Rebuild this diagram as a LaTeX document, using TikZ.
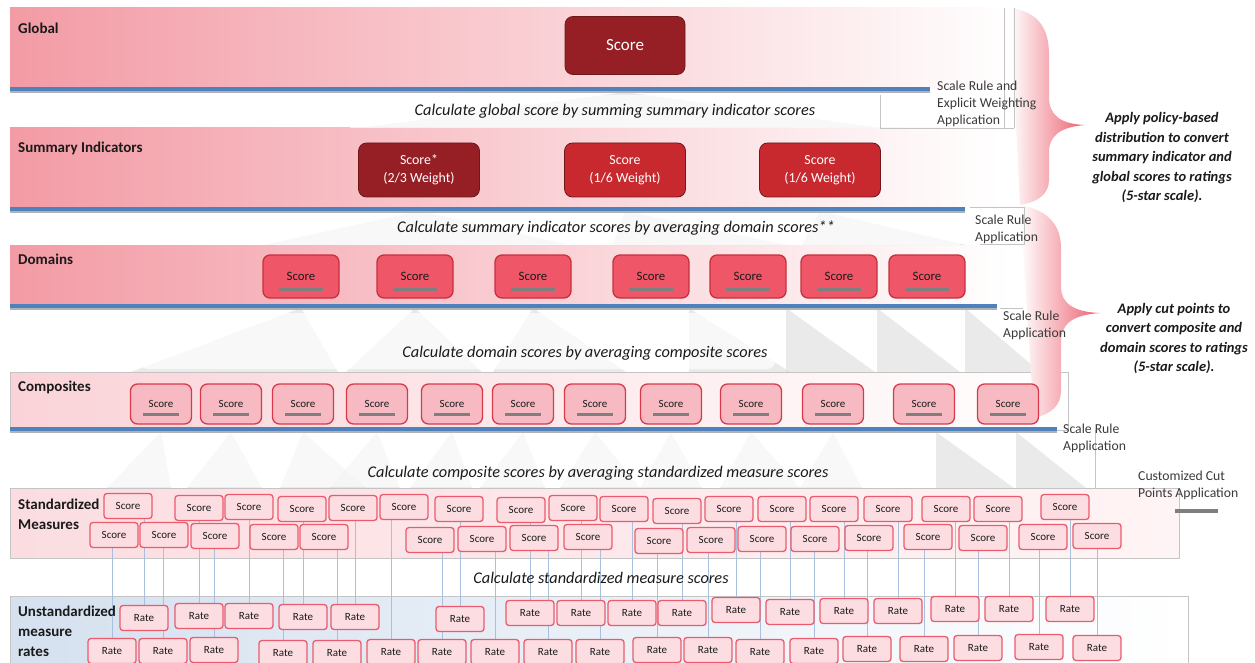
\documentclass[tikz,border=0pt]{standalone}
\usepackage{fontspec}
\setmainfont{Carlito}
\pgfdeclarelayer{bg}
\pgfdeclarelayer{mid}
\pgfsetlayers{bg,mid,main}
\definecolor{bandpink}{HTML}{F39BA5}
\definecolor{lightband}{HTML}{FAD3D8}
\definecolor{stdband}{HTML}{FBDDE1}
\definecolor{stdbandr}{HTML}{FFF4F5}
\definecolor{blueband}{HTML}{D5E1EF}
\definecolor{ruleblue}{HTML}{4F81BD}
\definecolor{darkred}{HTML}{951F24}
\definecolor{midred}{HTML}{C7292F}
\definecolor{domfill}{HTML}{EF5668}
\definecolor{domline}{HTML}{C8303C}
\definecolor{compfill}{HTML}{F7BAC2}
\definecolor{compline}{HTML}{D83A4A}
\definecolor{mfill}{HTML}{FCDEE2}
\definecolor{mline}{HTML}{EC5A6E}
\definecolor{connblue}{HTML}{A9C0DC}
\definecolor{barGray}{HTML}{7F7F7F}
\definecolor{bracepink}{HTML}{EC5F6E}
\definecolor{txt}{HTML}{1A1A1A}
\definecolor{ruletxt}{HTML}{3A3A3A}
\definecolor{boxline}{HTML}{C4C4C4}
\definecolor{tri}{HTML}{D0D0D0}
\begin{document}
\begin{tikzpicture}[x=1pt,y=-1pt,
  bandlabel/.style={anchor=west, inner sep=0pt, align=left, text=txt, font=\fontsize{15}{20}\selectfont\bfseries},
  calctext/.style={inner sep=0pt, text=txt, font=\fontsize{16.3}{18}\selectfont\itshape},
  ruletext/.style={anchor=west, inner sep=0pt, align=left, text=ruletxt, font=\fontsize{13.7}{17}\selectfont},
  bracetext/.style={inner sep=0pt, align=center, text=txt, font=\fontsize{14.5}{19.5}\selectfont\bfseries\itshape},
  globalbox/.style={rounded corners=8pt, fill=darkred, draw=darkred!75!black, line width=0.8pt, minimum width=120pt, minimum height=58pt, text=white, font=\fontsize{17}{20}\selectfont},
  sumbox/.style={rounded corners=8pt, draw=darkred!75!black, line width=0.8pt, minimum width=121pt, minimum height=54pt, text=white, align=center, font=\fontsize{13.9}{18}\selectfont},
  dombox/.style={rounded corners=7pt, fill=domfill, draw=domline, line width=1.3pt, minimum width=76pt, minimum height=43pt, text=txt, font=\fontsize{12.8}{14}\selectfont},
  compbox/.style={rounded corners=7pt, fill=compfill, draw=compline, line width=1.3pt, minimum width=61pt, minimum height=40pt, text=txt, font=\fontsize{11}{13}\selectfont},
  mbox/.style={rounded corners=3pt, fill=mfill, draw=mline, line width=1.3pt, minimum width=48pt, minimum height=25pt, inner sep=0pt, text=txt, font=\fontsize{11}{12}\selectfont},
  conn/.style={draw=connblue, line width=0.7pt},
  bluerule/.style={draw=ruleblue, line width=3.5pt},
  ruleshadow/.style={draw=black!30, line width=1.5pt},
  cutbar/.style={draw=barGray, line width=3.5pt},
  trifill/.style={fill=tri, opacity=0.45},
  labelbg/.style={fill=white, opacity=0.7},
  tbline/.style={draw=boxline, line width=0.6pt}]
\useasboundingbox (0,0) rectangle (1255,663);

\begin{pgfonlayer}{bg}
  % bands
  \shade[left color=bandpink, right color=white] (10,8) rectangle (1018,89);
  \shade[left color=bandpink, right color=white] (10,128) rectangle (1000,209);
  \shade[left color=bandpink, right color=white] (10,245) rectangle (1010,306);
  \shade[left color=lightband, right color=white] (10,372) rectangle (1068,430);
  \draw[tbline] (10,372) rectangle (1068,430);
  \shade[left color=stdband, right color=stdbandr] (10,488) rectangle (1179,558);
  \draw[tbline] (10,488) rectangle (1179,558);
  \shade[left color=blueband, right color=white] (10,596) rectangle (1188,670);
  \draw[tbline] (10,596) rectangle (1188,670);
  % hierarchy triangles
  \fill[trifill] (625,92) -- (360,128) -- (880,128) -- cycle;
  \fill[trifill] (419,211) -- (264,245) -- (570,245) -- cycle;
  \fill[trifill] (625,211) -- (613,245) -- (787,245) -- cycle;
  \fill[trifill] (820,211) -- (802,245) -- (966,245) -- cycle;
  \fill[trifill] (301,308) -- (131,372) -- (338,372) -- cycle;
  \fill[trifill] (415,308) -- (346,372) -- (482,372) -- cycle;
  \fill[trifill] (533,308) -- (493,372) -- (626,372) -- cycle;
  \fill[trifill] (689,308) -- (689,372) -- (790,372) -- cycle;
  \fill[trifill] (786,308) -- (786,372) -- (875,372) -- cycle;
  \fill[trifill] (877,308) -- (877,372) -- (960,372) -- cycle;
  \fill[trifill] (965,308) -- (965,372) -- (1040,372) -- cycle;
  \fill[trifill] (161,432) -- (107,488) -- (171,488) -- cycle;
  \fill[trifill] (231,432) -- (187,488) -- (262,488) -- cycle;
  \fill[trifill] (303,432) -- (280,488) -- (366,488) -- cycle;
  \fill[trifill] (377,432) -- (330,488) -- (400,488) -- cycle;
  \fill[trifill] (452,432) -- (410,488) -- (472,488) -- cycle;
  \fill[trifill] (523,432) -- (480,488) -- (545,488) -- cycle;
  \fill[trifill] (595,432) -- (560,488) -- (640,488) -- cycle;
  \fill[trifill] (671,432) -- (640,488) -- (702,488) -- cycle;
  \fill[trifill] (751,432) -- (720,488) -- (800,488) -- cycle;
  \fill[trifill] (833,432) -- (800,488) -- (862,488) -- cycle;
  \fill[trifill] (936,432) -- (936,488) -- (1014,488) -- cycle;
  \fill[trifill] (1016,432) -- (1016,488) -- (1086,488) -- cycle;
  % white backdrops behind the calculation texts
  \fill[labelbg] (350,95) rectangle (880,128);
  \fill[labelbg] (150,212) rectangle (960,245);
  \fill[labelbg, rounded corners=8pt] (140,313) rectangle (775,369);
  \fill[labelbg, rounded corners=8pt] (100,433) rectangle (880,487);
  \fill[labelbg] (90,561) rectangle (1120,595);
  % braces
  \shade[left color=white, middle color=bracepink!68, right color=bracepink]
    (1010,8) .. controls (1040,12) and (1049,30) .. (1049,55) -- (1049,97)
    .. controls (1049,115) and (1060,124) .. (1085,125)
    .. controls (1060,127) and (1049,136) .. (1049,152) -- (1049,180)
    .. controls (1049,194) and (1038,202) .. (1020,205) -- cycle;
  \shade[left color=white, middle color=bracepink!68, right color=bracepink]
    (1020,205) .. controls (1048,210) and (1061,225) .. (1061,248) -- (1061,287)
    .. controls (1061,302) and (1072,312) .. (1100,313)
    .. controls (1072,315) and (1061,324) .. (1061,342) -- (1061,390)
    .. controls (1061,405) and (1052,414) .. (1034,418) -- cycle;
  % text box borders
  \draw[tbline] (880,95) -- (880,128) -- (1014,128);
  \draw[tbline] (1004,8) -- (1004,128);
  \draw[tbline] (1014,8) -- (1014,128);
  \draw[tbline] (970,207) -- (1024,207) -- (1024,244) -- (980,244);
  \draw[tbline] (1000,308) -- (1023,308);
  \draw[tbline] (1095,430) -- (1095,488);
  % blue rules
  \draw[ruleshadow] (10,92) -- (930,92);
  \draw[bluerule] (10,89) -- (930,89);
  \draw[ruleshadow] (10,212) -- (965,212);
  \draw[bluerule] (10,209) -- (965,209);
  \draw[ruleshadow] (10,309) -- (997,309);
  \draw[bluerule] (10,306) -- (997,306);
  \draw[ruleshadow] (10,432) -- (1057,432);
  \draw[bluerule] (10,429) -- (1057,429);
\end{pgfonlayer}

% band labels
\node[bandlabel] (lglobal) at (18,28) {Global};
\node[bandlabel] (lsum) at (18,148) {Summary Indicators};
\node[bandlabel] (ldom) at (18,259) {Domains};
\node[bandlabel] (lcomp) at (18,387) {Composites};
\node[bandlabel] (lstd) at (18,514) {Standardized\\Measures};
\node[bandlabel] (lunstd) at (18,631) {Unstandardized\\measure\\rates};

% calculation texts
\node[calctext] (cglobal) at (615,111) {Calculate global score by summing summary indicator scores};
\node[calctext] (csum) at (616,228) {Calculate summary indicator scores by averaging domain scores**};
\node[calctext] (cdom) at (585,353) {Calculate domain scores by averaging composite scores};
\node[calctext] (ccomp) at (598,473) {Calculate composite scores by averaging standardized measure scores};
\node[calctext] (cstd) at (601,578) {Calculate standardized measure scores};

% rule texts
\node[ruletext] (rt1) at (937,104) {Scale Rule and\\Explicit Weighting\\Application};
\node[ruletext] (rt2) at (975,229.5) {Scale Rule\\Application};
\node[ruletext] (rt3) at (1003,325.5) {Scale Rule\\Application};
\node[ruletext] (rt4) at (1063,438.5) {Scale Rule\\Application};
\node[ruletext] (rt5) at (1138,485) {Customized Cut\\Points Application};
\coordinate (cbl) at (1175,511);
\coordinate (cbr) at (1218,511);
\draw[cutbar] (cbl) -- (cbr);

% brace texts
\node[bracetext] (bt1) at (1162,157.5) {Apply policy-based\\distribution to convert\\summary indicator and\\global scores to ratings\\(5-star scale).};
\node[bracetext] (bt2) at (1174,338.5) {Apply cut points to\\convert composite and\\domain scores to ratings\\(5-star scale).};

% global and summary
\node[globalbox] (g) at (625,45.5) {Score};
\node[sumbox, fill=darkred] (si1) at (419,170) {Score*\\(2/3 Weight)};
\node[sumbox, fill=midred] (si2) at (625,170) {Score\\(1/6 Weight)};
\node[sumbox, fill=midred] (si3) at (820,170) {Score\\(1/6 Weight)};

% domains
\foreach \x [count=\i] in {301,415,533,651,748,839,927} {
  \node[dombox] (d\i) at (\x,276.5) {Score};
  \draw[cutbar] ([xshift=-22pt,yshift=9pt]d\i.south) -- ([xshift=22pt,yshift=9pt]d\i.south);
}
% composites
\foreach \x [count=\i] in {161,231,303,377,452,523,595,671,751,833,924,1008} {
  \node[compbox] (c\i) at (\x,404) {Score};
  \draw[cutbar, line width=3pt] ([xshift=-18pt,yshift=10pt]c\i.south) -- ([xshift=18pt,yshift=10pt]c\i.south);
}

% standardized measures
\foreach \x/\y [count=\i] in {128/506,199/508,249/507,302/509,353/508,404/507,459/509,521/510,573/508,624/509,677/511,729/509,782/509,834/509,888/509,946/509,998/509,1065/507}
  \node[mbox] (sa\i) at (\x,\y) {Score};
\foreach \x/\y [count=\i] in {114/535,164/535,215/536,274/537,324/537,430/540,482/539,534/538,588/537,659/541,711/540,762/539,815/539,869/538,928/537,983/538,1043/537,1097/536}
  \node[mbox] (sb\i) at (\x,\y) {Score};
% rates
\foreach \x/\y [count=\i] in {144/618,199/616,249/616,303/617,355/617,460/619,530/613,581/613,632/613,682/613,736/610,790/612,844/611,898/611,955/609,1009/609,1070/609}
  \node[mbox] (ra\i) at (\x,\y) {Rate};
\foreach \x/\y [count=\i] in {112/651,163/651,214/650,283/653,337/653,391/652,442/652,495/652,548/652,600/652,657/650,708/650,760/652,814/651,867/649,924/649,978/648,1039/647,1097/648}
  \node[mbox] (rb\i) at (\x,\y) {Rate};

% connectors
\begin{pgfonlayer}{mid}
\foreach \r/\s in {rb1/sb1,ra1/sa1,rb2/sb2,ra2/sa2,rb3/sb3,ra3/sa3,rb4/sb4,ra4/sa4,rb5/sb5,ra5/sa5,rb6/sa6,rb7/sb6,ra6/sa7,rb8/sb7,ra7/sa8,rb9/sb8,ra8/sa9,rb10/sb9,ra9/sa10,rb11/sb10,ra10/sa11,rb12/sb11,ra11/sa12,rb13/sb12,ra12/sa13,rb14/sb13,ra13/sa14,rb15/sb14,ra14/sa15,rb16/sb15,ra15/sa16,rb17/sb16,ra16/sa17,rb18/sb17,ra17/sa18,rb19/sb18}
  \draw[conn] (\r.north |- \s.south) -- (\r.north);
\end{pgfonlayer}
\end{tikzpicture}
\end{document}
